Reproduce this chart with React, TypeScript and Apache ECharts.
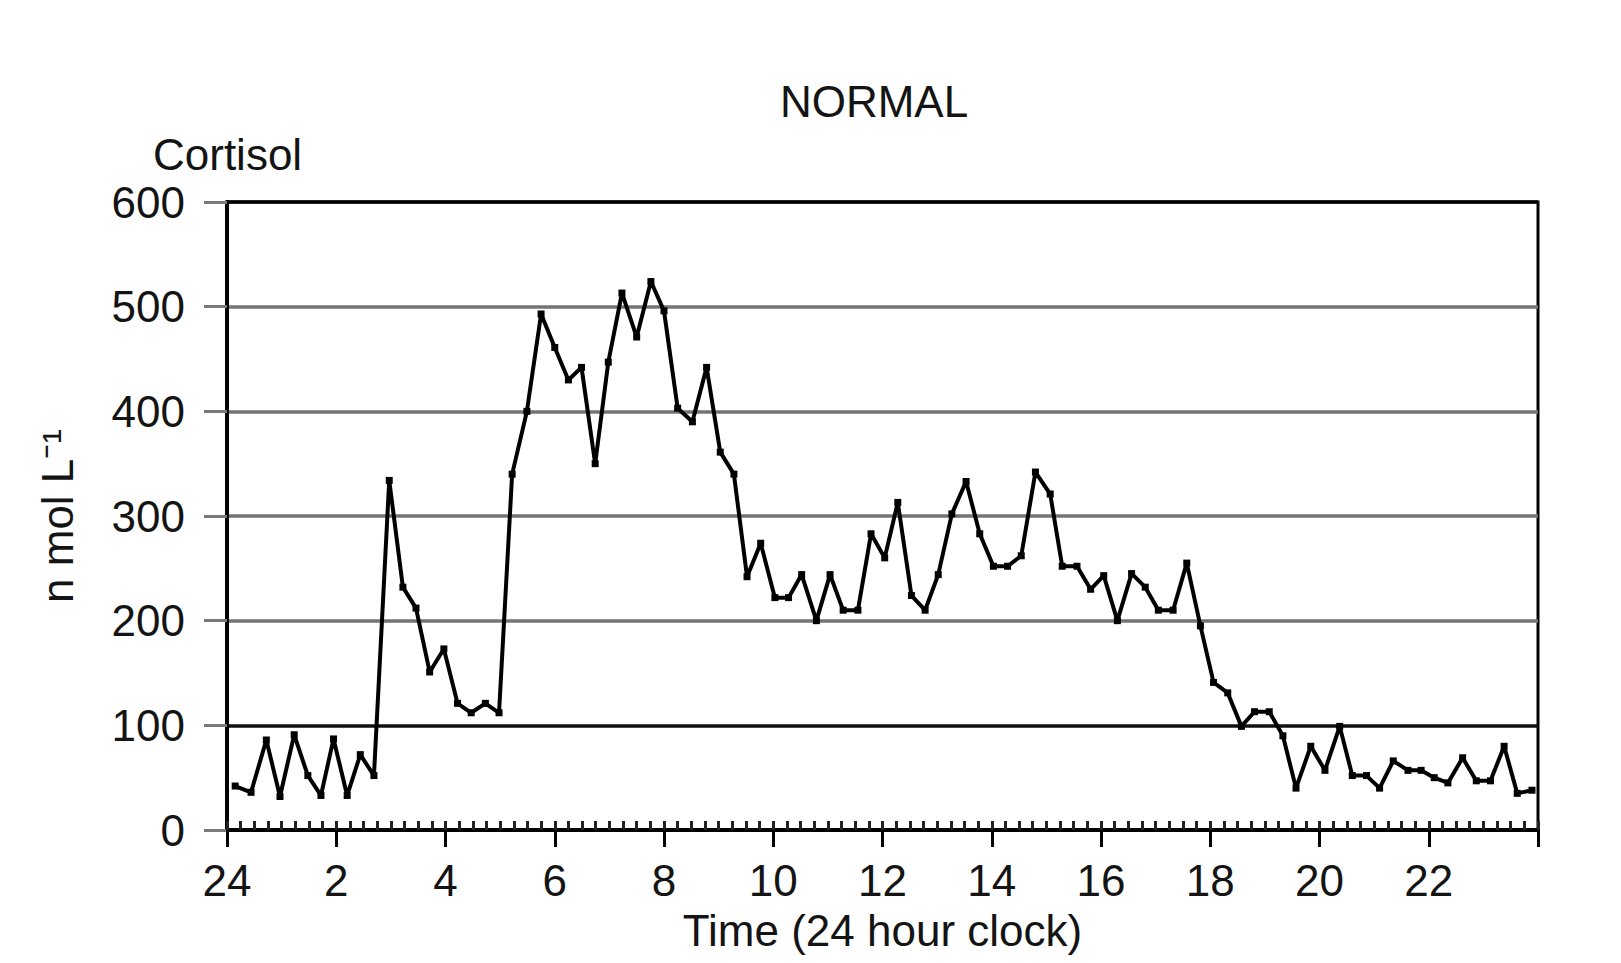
import React, { useEffect, useRef } from "react";
import * as echarts from "echarts";

// Time of each sample (hours after midnight, "24" = 0)
const sampleTimes = [
  0.15, 0.44, 0.72, 0.97, 1.23, 1.48, 1.72, 1.95, 2.2, 2.44,
  2.69, 2.97, 3.22, 3.46, 3.71, 3.97, 4.22, 4.47, 4.73, 4.98,
  5.22, 5.49, 5.75, 6.0, 6.25, 6.49, 6.74, 6.98, 7.23, 7.5,
  7.76, 8.0, 8.25, 8.52, 8.78, 9.03, 9.28, 9.52, 9.77, 10.03,
  10.28, 10.52, 10.79, 11.04, 11.28, 11.55, 11.79, 12.04, 12.28, 12.53,
  12.78, 13.02, 13.27, 13.53, 13.78, 14.03, 14.29, 14.54, 14.8, 15.07,
  15.29, 15.56, 15.81, 16.05, 16.3, 16.56, 16.81, 17.05, 17.32, 17.57,
  17.82, 18.06, 18.32, 18.57, 18.81, 19.08, 19.33, 19.57, 19.84, 20.1,
  20.37, 20.6, 20.86, 21.1, 21.35, 21.62, 21.86, 22.1, 22.35, 22.62,
  22.87, 23.13, 23.38, 23.62, 23.89,
];

// Cortisol, n mol L-1
const cortisolValues = [
  42, 36, 86, 32, 91, 52, 33, 87, 33, 72,
  52, 334, 232, 212, 151, 173, 121, 112, 121, 112,
  340, 400, 493, 461, 430, 442, 350, 447, 513, 471,
  524, 496, 403, 390, 442, 361, 340, 242, 274, 222,
  222, 244, 200, 244, 210, 210, 283, 260, 313, 224,
  210, 244, 302, 333, 283, 252, 252, 262, 342, 321,
  252, 252, 230, 243, 200, 245, 232, 210, 210, 255,
  195, 141, 131, 99, 113, 113, 90, 40, 80, 57,
  99, 52, 52, 40, 66, 57, 57, 50, 45, 69,
  47, 47, 80, 35, 38,
];

const xTickHours = [0, 2, 4, 6, 8, 10, 12, 14, 16, 18, 20, 22, 24];
const xTickLabels = ["24", "2", "4", "6", "8", "10", "12", "14", "16", "18", "20", "22", ""];
const yTicks = [0, 100, 200, 300, 400, 500, 600];

const FONT = '"Liberation Sans", Arial, Helvetica, sans-serif';
const TXT = "#141414";

export default function App() {
  const ref = useRef<HTMLDivElement>(null);

  useEffect(() => {
    if (!ref.current) return;
    const chart = echarts.init(ref.current, null, { renderer: "svg" });
    const gridBox = { left: 227, top: 202, width: 1311, height: 628 };
    const option = {
      animation: false,
      backgroundColor: "#ffffff",
      textStyle: { fontFamily: FONT },
      title: [
        {
          text: "NORMAL",
          left: 874,
          top: 79,
          textAlign: "center",
          padding: 0,
          textStyle: { fontFamily: FONT, fontSize: 44, fontWeight: "normal", color: TXT },
        },
        {
          text: "Cortisol",
          left: 153,
          top: 132,
          padding: 0,
          textStyle: { fontFamily: FONT, fontSize: 44, fontWeight: "normal", color: TXT },
        },
      ],
      grid: [
        { ...gridBox, show: true, borderColor: "#000", borderWidth: 3, backgroundColor: "transparent" },
        { ...gridBox, show: false },
      ],
      xAxis: [
        {
          type: "value",
          gridIndex: 0,
          min: xTickHours[0],
          max: xTickHours[xTickHours.length - 1],
          interval: 2,
          name: "Time (24 hour clock)",
          nameLocation: "middle",
          nameGap: 78,
          nameTextStyle: { fontFamily: FONT, fontSize: 44, color: TXT },
          axisLine: { show: true, onZero: false, lineStyle: { color: "#000", width: 4 } },
          axisTick: { show: true, inside: false, length: 17, lineStyle: { color: "#000", width: 3 } },
          axisLabel: {
            margin: 28,
            fontFamily: FONT,
            fontSize: 44,
            color: TXT,
            formatter: (v: number) => {
              const i = xTickHours.indexOf(v);
              return i >= 0 ? xTickLabels[i] : "";
            },
          },
          splitLine: { show: false },
        },
        {
          type: "value",
          gridIndex: 1,
          min: 0,
          max: 24,
          interval: 0.25,
          axisLine: { show: false },
          axisTick: { show: true, inside: true, length: 9, lineStyle: { color: "#222", width: 3 } },
          axisLabel: { show: false },
          splitLine: { show: false },
        },
      ],
      yAxis: [
        {
          type: "value",
          gridIndex: 0,
          min: yTicks[0],
          max: yTicks[yTicks.length - 1],
          interval: 100,
          name: "n mol L\u207B\u00B9",
          nameLocation: "middle",
          nameRotate: 90,
          nameGap: 148,
          nameTextStyle: { fontFamily: FONT, fontSize: 44, color: TXT },
          axisLine: { show: true, lineStyle: { color: "#000", width: 4 } },
          axisTick: { show: true, inside: false, length: 23, lineStyle: { color: "#7a7a7a", width: 3 } },
          axisLabel: { margin: 42, fontFamily: FONT, fontSize: 44, color: TXT },
          splitLine: {
            show: true,
            lineStyle: {
              color: ["#000", "#111", "#747474", "#747474", "#747474", "#747474", "#000"],
              width: 3.5,
            },
          },
        },
        {
          type: "value",
          gridIndex: 1,
          min: 0,
          max: 600,
          show: false,
        },
      ],
      series: [
        {
          type: "line",
          xAxisIndex: 0,
          yAxisIndex: 0,
          data: sampleTimes.map((t, i) => [t, cortisolValues[i]]),
          symbol: "rect",
          symbolSize: 7,
          showSymbol: true,
          lineStyle: { color: "#000", width: 4 },
          itemStyle: { color: "#000" },
          z: 5,
        },
      ],
    };
    chart.setOption(option as any);
    return () => chart.dispose();
  }, []);

  return (
    <div
      ref={ref}
      style={{ position: "fixed", left: 0, top: 0, width: 1621, height: 963, background: "#fff" }}
    />
  );
}
